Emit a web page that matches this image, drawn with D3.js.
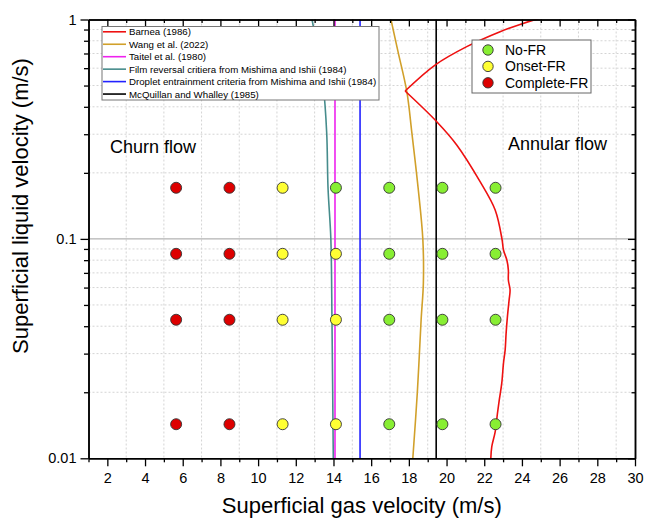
<!DOCTYPE html>
<html><head><meta charset="utf-8">
<script src="https://cdn.jsdelivr.net/npm/d3@7"></script>
<style>
body{margin:0;background:#fff;}
svg text{font-family:Arial,"Liberation Sans",sans-serif;fill:#000;}
</style></head>
<body><svg id="c" width="646" height="522"></svg>
<script>
// ---------- data ----------
const xMajorTicks = [2,4,6,8,10,12,14,16,18,20,22,24,26,28,30];
const xMinorTicks = [1,3,5,7,9,11,13,15,17,19,21,23,25,27,29];
const yMajorTicks = [0.01,0.1,1];
const yMinorTicks = [0.02,0.03,0.04,0.05,0.06,0.07,0.08,0.09,0.2,0.3,0.4,0.5,0.6,0.7,0.8,0.9];
const yTickLabels = ["0.01","0.1","1"];

const gasVel = [5.65,8.48,11.3,14.13,16.96,19.78,22.6];
const liqVel = [0.171,0.0855,0.0428,0.0143];
// category per row (liqVel) and column (gasVel): N=No-FR, O=Onset-FR, C=Complete-FR
const regimeRows = [
  ["C","C","O","N","N","N","N"],
  ["C","C","O","O","N","N","N"],
  ["C","C","O","O","N","N","N"],
  ["C","C","O","O","N","N","N"]
];
const regimeNames = ["No-FR","Onset-FR","Complete-FR"];
const regimeKeys = ["N","O","C"];

// Barnea (1986): [jg, jl] lower branch (up to the kink) and upper branch (from the kink)
const barneaLower = [
  [22.35,0.01],[22.40,0.0113],[22.58,0.0132],[22.70,0.0160],[22.80,0.0185],[22.93,0.0220],
  [23.02,0.0271],[23.11,0.0312],[23.16,0.0371],[23.23,0.0442],[23.32,0.0527],[23.37,0.0585],
  [23.28,0.065],[23.28,0.0721],[23.20,0.0801],[23.02,0.089],[22.95,0.0988],[22.58,0.1354],
  [21.78,0.1823],[20.54,0.268],[19.48,0.342],[17.80,0.472]
];
const barneaUpper = [
  [17.80,0.472],[19.39,0.620],[21.07,0.752],[22.84,0.880],[23.9,0.95],[25.1,1.02]
];
// Wang et al. (2022)
const wangLine = [
  [18.21,0.01],[18.45,0.02],[18.65,0.0427],[18.77,0.063],[18.74,0.1],[18.49,0.171],
  [18.16,0.304],[17.89,0.47],[17.43,0.71],[17.05,1.0]
];
// Taitel et al. (1980)
const taitelJg = 14.08;
// Film reversal, Mishima and Ishii (1984)
const filmLine = [
  [13.99,0.01],[13.92,0.0427],[13.86,0.1],[13.71,0.171],[13.64,0.304],[13.45,0.508],[13.2,0.7],[12.86,1.0]
];
// Droplet entrainment, Mishima and Ishii (1984)
const dropletJg = 15.41;
// McQuillan and Whalley (1985)
const mcquillanJg = 19.45;

const lineNames = ["Barnea (1986)","Wang et al. (2022)","Taitel et al. (1980)",
  "Film reversal critiera from Mishima and Ishii (1984)",
  "Droplet entrainment criteria from Mishima and Ishii (1984)",
  "McQuillan and Whalley (1985)"];

// ---------- styles ----------
const lineColors = ["#ee1111","#d1a02a","#ee22ee","#468c8c","#2222ff","#000000"];
const regimeColors = {N:"#88ee33",O:"#ffff33",C:"#dd0000"};

const W=646,H=522, L=88.5, R=635, T=19.5, B=458.3;
const svg = d3.select("#c");
const x = d3.scaleLinear().domain([1,30]).range([L,R]);
const y = d3.scaleLog().domain([0.01,1]).range([B,T]);

// grid
const grid = svg.append("g");
grid.selectAll(".gx").data(xMinorTicks.filter(d=>d>1)).join("line")
  .attr("x1",d=>x(d)).attr("x2",d=>x(d)).attr("y1",T).attr("y2",B)
  .attr("stroke","#d4d4d4").attr("stroke-width",1).attr("stroke-dasharray","2,2");
grid.selectAll(".gy").data(yMinorTicks).join("line")
  .attr("x1",L).attr("x2",R).attr("y1",d=>y(d)).attr("y2",d=>y(d))
  .attr("stroke","#d4d4d4").attr("stroke-width",1).attr("stroke-dasharray","2,2");
grid.append("line").attr("x1",L).attr("x2",R).attr("y1",y(0.1)).attr("y2",y(0.1))
  .attr("stroke","#a0a0a0").attr("stroke-width",1);

// clip
svg.append("clipPath").attr("id","clip").append("rect").attr("x",L).attr("y",T).attr("width",R-L).attr("height",B-T);
const plot = svg.append("g").attr("clip-path","url(#clip)");

const smooth = d3.line().x(d=>x(d[0])).y(d=>y(d[1])).curve(d3.curveCatmullRom);

plot.append("path").datum(filmLine).attr("d",smooth).attr("fill","none").attr("stroke",lineColors[3]).attr("stroke-width",1.6);
plot.append("line").attr("x1",x(taitelJg)).attr("x2",x(taitelJg)).attr("y1",T).attr("y2",B).attr("stroke",lineColors[2]).attr("stroke-width",1.6);
plot.append("line").attr("x1",x(dropletJg)).attr("x2",x(dropletJg)).attr("y1",T).attr("y2",B).attr("stroke",lineColors[4]).attr("stroke-width",1.6);
plot.append("path").datum(wangLine).attr("d",smooth).attr("fill","none").attr("stroke",lineColors[1]).attr("stroke-width",1.6);
plot.append("line").attr("x1",x(mcquillanJg)).attr("x2",x(mcquillanJg)).attr("y1",T).attr("y2",B).attr("stroke",lineColors[5]).attr("stroke-width",1.6);
plot.append("path").datum(barneaLower).attr("d",smooth).attr("fill","none").attr("stroke",lineColors[0]).attr("stroke-width",1.6);
plot.append("path").datum(barneaUpper).attr("d",smooth).attr("fill","none").attr("stroke",lineColors[0]).attr("stroke-width",1.6);

// points
const pts = [];
liqVel.forEach((jl,i)=>gasVel.forEach((jg,j)=>pts.push({jg,jl,k:regimeRows[i][j]})));
svg.append("g").selectAll("circle").data(pts).join("circle")
  .attr("cx",d=>x(d.jg)).attr("cy",d=>y(d.jl)).attr("r",5.5)
  .attr("fill",d=>regimeColors[d.k]).attr("stroke","#333").attr("stroke-width",0.9);

// axes
function styleAxis(g){g.select(".domain").attr("stroke","#000").attr("stroke-width",1.5);
  g.selectAll(".tick line").attr("stroke","#000").attr("stroke-width",1.3);}
// bottom
svg.append("g").attr("transform",`translate(0,${B})`)
  .call(d3.axisBottom(x).tickValues(xMinorTicks).tickSize(4).tickSizeOuter(0).tickFormat(""))
  .call(styleAxis);
const bx = svg.append("g").attr("transform",`translate(0,${B})`)
  .call(d3.axisBottom(x).tickValues(xMajorTicks).tickSize(8).tickSizeOuter(0).tickPadding(6))
  .call(styleAxis);
bx.selectAll("text").attr("font-size","14.5px").attr("font-family","Arial, 'Liberation Sans', sans-serif").attr("fill","#000");
// top (inward)
svg.append("g").attr("transform",`translate(0,${T})`)
  .call(d3.axisBottom(x).tickValues(xMinorTicks).tickSize(3.5).tickSizeOuter(0).tickFormat(""))
  .call(styleAxis);
svg.append("g").attr("transform",`translate(0,${T})`)
  .call(d3.axisBottom(x).tickValues(xMajorTicks).tickSize(7).tickSizeOuter(0).tickFormat(""))
  .call(styleAxis);
// left
svg.append("g").attr("transform",`translate(${L},0)`)
  .call(d3.axisLeft(y).tickValues(yMinorTicks).tickSize(4.5).tickSizeOuter(0).tickFormat(""))
  .call(styleAxis);
const ly = svg.append("g").attr("transform",`translate(${L},0)`)
  .call(d3.axisLeft(y).tickValues(yMajorTicks).tickSize(8).tickSizeOuter(0).tickPadding(4)
    .tickFormat((d,i)=>yTickLabels[i]))
  .call(styleAxis);
ly.selectAll("text").attr("font-size","14.5px").attr("font-family","Arial, 'Liberation Sans', sans-serif").attr("fill","#000");
// right (inward)
svg.append("g").attr("transform",`translate(${R},0)`)
  .call(d3.axisLeft(y).tickValues(yMinorTicks).tickSize(3.5).tickSizeOuter(0).tickFormat(""))
  .call(styleAxis);
svg.append("g").attr("transform",`translate(${R},0)`)
  .call(d3.axisLeft(y).tickValues(yMajorTicks).tickSize(7).tickSizeOuter(0).tickFormat(""))
  .call(styleAxis);

// titles
svg.append("text").attr("x",(L+R)/2).attr("y",513).attr("text-anchor","middle").attr("font-size","22px").text("Superficial gas velocity (m/s)");
svg.append("text").attr("transform","translate(28,206) rotate(-90)").attr("text-anchor","middle").attr("font-size","22px").text("Superficial liquid velocity (m/s)");
svg.append("text").attr("x",110).attr("y",153).attr("font-size","18px").text("Churn flow");
svg.append("text").attr("x",508).attr("y",150).attr("font-size","18px").text("Annular flow");

// legend 1
const lg1 = svg.append("g");
lg1.append("rect").attr("x",102).attr("y",26.5).attr("width",277).attr("height",73.5)
  .attr("fill","#fff").attr("stroke","#777").attr("stroke-width",1);
lineNames.forEach((n,i)=>{
  const yy = 31.8 + i*12.45;
  lg1.append("line").attr("x1",103).attr("x2",126).attr("y1",yy).attr("y2",yy).attr("stroke",lineColors[i]).attr("stroke-width",1.6);
  lg1.append("text").attr("x",129).attr("y",yy+3.6).attr("font-size","9.7px").text(n);
});
// legend 2
const lg2 = svg.append("g");
lg2.append("rect").attr("x",472).attr("y",40).attr("width",119).attr("height",53)
  .attr("fill","#fff").attr("stroke","#666").attr("stroke-width",1);
regimeKeys.forEach((k,i)=>{
  const yy = 50 + i*16.4;
  lg2.append("circle").attr("cx",488).attr("cy",yy).attr("r",5.2).attr("fill",regimeColors[k]).attr("stroke","#333").attr("stroke-width",0.9);
  lg2.append("text").attr("x",505).attr("y",yy+5).attr("font-size","14px").text(regimeNames[i]);
});
</script></body></html>
